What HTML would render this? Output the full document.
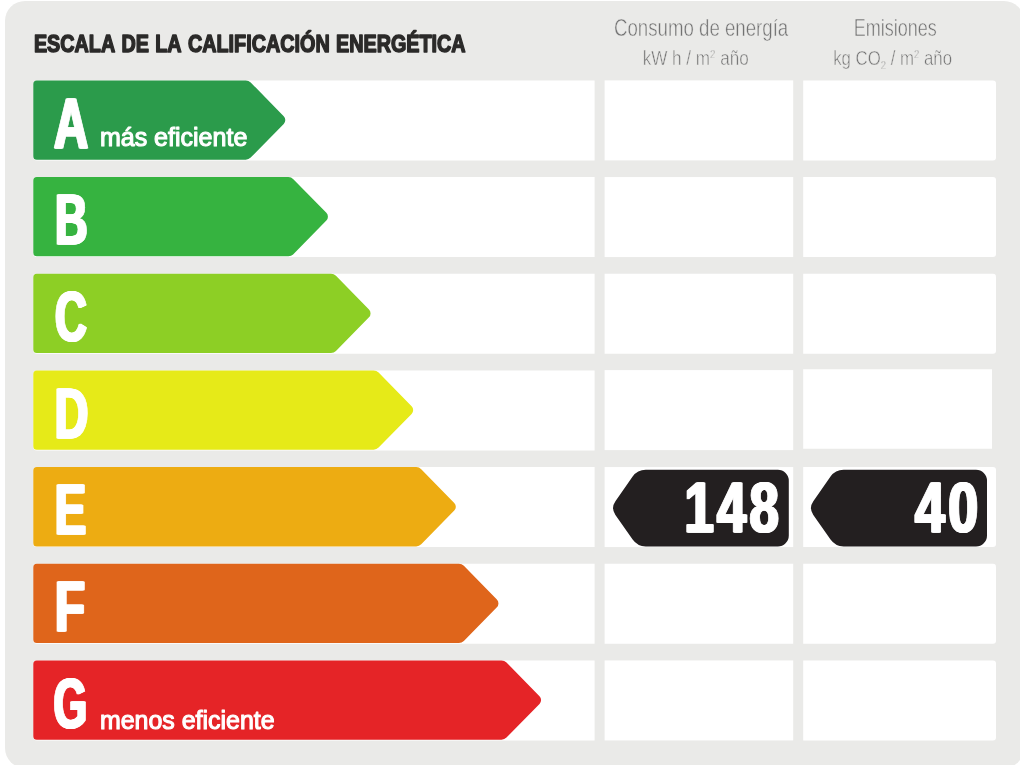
<!DOCTYPE html>
<html lang="es">
<head>
<meta charset="utf-8">
<title>Escala de la calificación energética</title>
<style>
html,body{margin:0;padding:0;background:#fff;}
body{width:1020px;height:765px;overflow:hidden;position:relative;}
svg{display:block;position:absolute;left:0;top:0;}
text{font-family:"Liberation Sans",sans-serif;font-kerning:none;}
.b{font-weight:bold;}
.k{stroke-linejoin:round;}
.w{filter:drop-shadow(1px 0 0 #fff) drop-shadow(-1px 0 0 #fff);}
</style>
</head>
<body>
<svg width="1020" height="765" viewBox="0 0 1020 765">
<rect x="5" y="1" width="1019" height="767" rx="20" ry="20" fill="#EAEAE8"/>
<text class="b k" transform="translate(33.89 52.05) scale(0.8175 1)" font-size="24.2" word-spacing="1.0" fill="#2B2A29" stroke="#2B2A29" stroke-width="1.50">ESCALA DE LA CALIFICACIÓN ENERGÉTICA</text>
<text class="k" transform="translate(701.10 36.30) scale(0.762 1)" font-size="24.5" fill="#727272" stroke="#EAEAE8" stroke-width="0.50" text-anchor="middle">Consumo de energía</text>
<text class="k" transform="translate(695.70 64.80) scale(0.877 1)" font-size="19.5" fill="#727272" stroke="#EAEAE8" stroke-width="0.50" text-anchor="middle">kW h / m<tspan font-size="11" dy="-7">2</tspan><tspan dy="7"> año</tspan></text>
<text class="k" transform="translate(895.20 36.30) scale(0.735 1)" font-size="24.5" fill="#727272" stroke="#EAEAE8" stroke-width="0.50" text-anchor="middle">Emisiones</text>
<text class="k" transform="translate(892.60 64.80) scale(0.862 1)" font-size="19.5" fill="#727272" stroke="#EAEAE8" stroke-width="0.50" text-anchor="middle">kg CO<tspan font-size="11" dy="4">2</tspan><tspan dy="-4"> / m</tspan><tspan font-size="11" dy="-7">2</tspan><tspan dy="7"> año</tspan></text>
<g>
<path d="M33.30 83.90 A3.50 3.50 0 0 1 36.80 80.40 L594.60 80.40 L594.60 160.40 L36.80 160.40 A3.50 3.50 0 0 1 33.30 156.90 Z" fill="#fff"/>
<rect x="604.6" y="80.40" width="188.6" height="80.00" fill="#fff"/>
<path d="M803.20 80.40 L993.00 80.40 A3.00 3.00 0 0 1 996.00 83.40 L996.00 157.40 A3.00 3.00 0 0 1 993.00 160.40 L803.20 160.40 Z" fill="#fff"/>
<path d="M33.30 83.90 A3.50 3.50 0 0 1 36.80 80.40 L245.71 80.40 A7.00 7.00 0 0 1 250.71 82.50 L283.73 116.20 A5.50 5.50 0 0 1 283.73 123.90 L250.71 157.60 A7.00 7.00 0 0 1 245.71 159.70 L36.80 159.70 A3.50 3.50 0 0 1 33.30 156.20 Z" fill="#2B9B4B"/>
<g class="w"><text class="b k" transform="translate(54.06 147.70) scale(0.6680 1)" font-size="70.8" fill="#fff" stroke="#fff" stroke-width="1.00">A</text></g>
<text class="k" transform="translate(99.88 146.45) scale(0.9895 1)" font-size="25.3" fill="#fff" stroke="#fff" stroke-width="1.10">más eficiente</text>
</g>
<g>
<path d="M33.30 180.57 A3.50 3.50 0 0 1 36.80 177.07 L594.60 177.07 L594.60 257.07 L36.80 257.07 A3.50 3.50 0 0 1 33.30 253.57 Z" fill="#fff"/>
<rect x="604.6" y="177.07" width="188.6" height="80.00" fill="#fff"/>
<path d="M803.20 177.07 L993.00 177.07 A3.00 3.00 0 0 1 996.00 180.07 L996.00 254.07 A3.00 3.00 0 0 1 993.00 257.07 L803.20 257.07 Z" fill="#fff"/>
<path d="M33.30 180.57 A3.50 3.50 0 0 1 36.80 177.07 L288.34 177.07 A7.00 7.00 0 0 1 293.34 179.17 L326.36 212.87 A5.50 5.50 0 0 1 326.36 220.57 L293.34 254.27 A7.00 7.00 0 0 1 288.34 256.37 L36.80 256.37 A3.50 3.50 0 0 1 33.30 252.87 Z" fill="#36B340"/>
<g class="w"><text class="b k" transform="translate(54.90 244.37) scale(0.6383 1)" font-size="70.8" fill="#fff" stroke="#fff" stroke-width="1.00">B</text></g>
</g>
<g>
<path d="M33.30 277.24 A3.50 3.50 0 0 1 36.80 273.74 L594.60 273.74 L594.60 353.74 L36.80 353.74 A3.50 3.50 0 0 1 33.30 350.24 Z" fill="#fff"/>
<rect x="604.6" y="273.74" width="188.6" height="80.00" fill="#fff"/>
<path d="M803.20 273.74 L993.00 273.74 A3.00 3.00 0 0 1 996.00 276.74 L996.00 350.74 A3.00 3.00 0 0 1 993.00 353.74 L803.20 353.74 Z" fill="#fff"/>
<path d="M33.30 277.24 A3.50 3.50 0 0 1 36.80 273.74 L330.97 273.74 A7.00 7.00 0 0 1 335.97 275.84 L368.99 309.54 A5.50 5.50 0 0 1 368.99 317.24 L335.97 350.94 A7.00 7.00 0 0 1 330.97 353.04 L36.80 353.04 A3.50 3.50 0 0 1 33.30 349.54 Z" fill="#8DCF25"/>
<g class="w"><text class="b k" transform="translate(54.91 341.04) scale(0.6217 1)" font-size="70.8" fill="#fff" stroke="#fff" stroke-width="1.00">C</text></g>
</g>
<g>
<path d="M33.30 373.91 A3.50 3.50 0 0 1 36.80 370.41 L594.60 370.41 L594.60 450.41 L36.80 450.41 A3.50 3.50 0 0 1 33.30 446.91 Z" fill="#fff"/>
<rect x="604.6" y="370.11" width="188.6" height="80.00" fill="#fff"/>
<path d="M803.20 369.21 L992.00 369.21 L992.00 448.71 L803.20 448.71 Z" fill="#fff"/>
<path d="M33.30 373.91 A3.50 3.50 0 0 1 36.80 370.41 L373.60 370.41 A7.00 7.00 0 0 1 378.60 372.51 L411.62 406.21 A5.50 5.50 0 0 1 411.62 413.91 L378.60 447.61 A7.00 7.00 0 0 1 373.60 449.71 L36.80 449.71 A3.50 3.50 0 0 1 33.30 446.21 Z" fill="#E6EA18"/>
<g class="w"><text class="b k" transform="translate(54.82 437.71) scale(0.6551 1)" font-size="70.8" fill="#fff" stroke="#fff" stroke-width="1.00">D</text></g>
</g>
<g>
<path d="M33.30 470.58 A3.50 3.50 0 0 1 36.80 467.08 L594.60 467.08 L594.60 547.08 L36.80 547.08 A3.50 3.50 0 0 1 33.30 543.58 Z" fill="#fff"/>
<rect x="604.6" y="467.08" width="188.6" height="80.00" fill="#fff"/>
<path d="M803.20 467.08 L993.00 467.08 A3.00 3.00 0 0 1 996.00 470.08 L996.00 544.08 A3.00 3.00 0 0 1 993.00 547.08 L803.20 547.08 Z" fill="#fff"/>
<path d="M33.30 470.58 A3.50 3.50 0 0 1 36.80 467.08 L416.23 467.08 A7.00 7.00 0 0 1 421.23 469.18 L454.25 502.88 A5.50 5.50 0 0 1 454.25 510.58 L421.23 544.28 A7.00 7.00 0 0 1 416.23 546.38 L36.80 546.38 A3.50 3.50 0 0 1 33.30 542.88 Z" fill="#EDAC12"/>
<g class="w"><text class="b k" transform="translate(54.78 534.38) scale(0.6655 1)" font-size="70.8" fill="#fff" stroke="#fff" stroke-width="1.00">E</text></g>
</g>
<g>
<path d="M33.30 567.25 A3.50 3.50 0 0 1 36.80 563.75 L594.60 563.75 L594.60 643.75 L36.80 643.75 A3.50 3.50 0 0 1 33.30 640.25 Z" fill="#fff"/>
<rect x="604.6" y="563.75" width="188.6" height="80.00" fill="#fff"/>
<path d="M803.20 563.75 L993.00 563.75 A3.00 3.00 0 0 1 996.00 566.75 L996.00 640.75 A3.00 3.00 0 0 1 993.00 643.75 L803.20 643.75 Z" fill="#fff"/>
<path d="M33.30 567.25 A3.50 3.50 0 0 1 36.80 563.75 L458.86 563.75 A7.00 7.00 0 0 1 463.86 565.85 L496.88 599.55 A5.50 5.50 0 0 1 496.88 607.25 L463.86 640.95 A7.00 7.00 0 0 1 458.86 643.05 L36.80 643.05 A3.50 3.50 0 0 1 33.30 639.55 Z" fill="#DF651B"/>
<g class="w"><text class="b k" transform="translate(54.63 631.05) scale(0.7015 1)" font-size="70.8" fill="#fff" stroke="#fff" stroke-width="1.00">F</text></g>
</g>
<g>
<path d="M33.30 663.92 A3.50 3.50 0 0 1 36.80 660.42 L594.60 660.42 L594.60 740.42 L36.80 740.42 A3.50 3.50 0 0 1 33.30 736.92 Z" fill="#fff"/>
<rect x="604.6" y="660.42" width="188.6" height="80.00" fill="#fff"/>
<path d="M803.20 660.42 L993.00 660.42 A3.00 3.00 0 0 1 996.00 663.42 L996.00 737.42 A3.00 3.00 0 0 1 993.00 740.42 L803.20 740.42 Z" fill="#fff"/>
<path d="M33.30 663.92 A3.50 3.50 0 0 1 36.80 660.42 L501.49 660.42 A7.00 7.00 0 0 1 506.49 662.52 L539.51 696.22 A5.50 5.50 0 0 1 539.51 703.92 L506.49 737.62 A7.00 7.00 0 0 1 501.49 739.72 L36.80 739.72 A3.50 3.50 0 0 1 33.30 736.22 Z" fill="#E52427"/>
<g class="w"><text class="b k" transform="translate(53.53 727.72) scale(0.6110 1)" font-size="70.8" fill="#fff" stroke="#fff" stroke-width="1.00">G</text></g>
<text class="k" transform="translate(99.88 729.25) scale(0.9869 1)" font-size="25.3" fill="#fff" stroke="#fff" stroke-width="1.10">menos eficiente</text>
</g>
<path d="M615.42 514.98 A12.00 12.00 0 0 1 615.42 501.22 L632.63 476.62 A16.00 16.00 0 0 1 645.74 469.80 L777.80 469.80 A11.00 11.00 0 0 1 788.80 480.80 L788.80 535.40 A11.00 11.00 0 0 1 777.80 546.40 L645.74 546.40 A16.00 16.00 0 0 1 632.63 539.58 Z" fill="#231F20"/>
<g class="w"><text class="b k" letter-spacing="4.4" transform="translate(684.56 532.40) scale(0.7429 1)" font-size="70.8" fill="#fff" stroke="#fff" stroke-width="1.00">148</text></g>
<path d="M813.32 514.98 A12.00 12.00 0 0 1 813.32 501.22 L830.53 476.62 A16.00 16.00 0 0 1 843.64 469.80 L976.00 469.80 A11.00 11.00 0 0 1 987.00 480.80 L987.00 535.40 A11.00 11.00 0 0 1 976.00 546.40 L843.64 546.40 A16.00 16.00 0 0 1 830.53 539.58 Z" fill="#231F20"/>
<g class="w"><text class="b k" letter-spacing="4.4" transform="translate(914.97 532.40) scale(0.7583 1)" font-size="70.8" fill="#fff" stroke="#fff" stroke-width="1.00">40</text></g>
</svg>
</body>
</html>
